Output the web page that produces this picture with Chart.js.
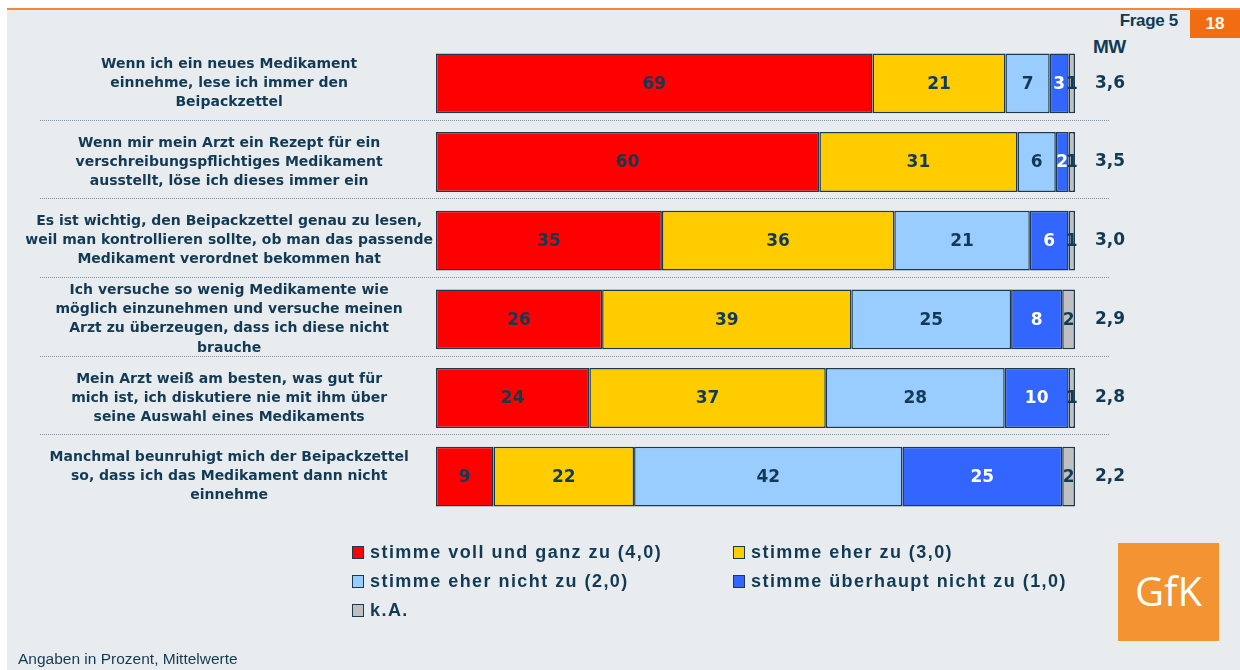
<!DOCTYPE html>
<html>
<head>
<meta charset="utf-8">
<script src="https://cdn.jsdelivr.net/npm/chart.js@4.4.0/dist/chart.umd.min.js"></script>
<style>
  body { margin:0; width:1240px; height:670px; overflow:hidden; background:#fff; position:relative; color:#123a55; }
  #panel { position:absolute; left:7px; top:8px; right:0; bottom:0; background:#e8ecee; border-top:2px solid #f7873a; }
  #chartBox { position:absolute; left:0; top:0; width:1240px; height:670px; }
  .hdr { position:absolute; font-family:"Liberation Sans"; font-weight:bold; color:#123a55; transform-origin:right top; }
  #frage { right:62px; top:11px; font-size:17px; letter-spacing:-0.3px; }
  #page { position:absolute; left:1190px; top:10px; width:50px; height:28px; background:#f26c12; color:#fff; font-family:"Liberation Sans"; font-weight:bold; font-size:17px; text-align:center; line-height:28px; }
  #mw { left:1093px; top:36px; font-size:19px; letter-spacing:-0.5px; }
  #logo { position:absolute; left:1118px; top:543px; width:101px; height:98px; background:#f39331; color:#fff; font-family:"Open Sans"; font-size:40px; text-align:center; line-height:96px; }
  #foot { position:absolute; left:18px; top:650px; font-family:"Liberation Sans"; font-size:15.5px; color:#123a55; }
  #legend { position:absolute; left:352px; top:538px; display:grid; grid-template-columns:381px auto; grid-auto-rows:29px;
            font-family:"Liberation Sans"; font-weight:bold; font-size:18px; letter-spacing:1.45px; color:#123a55; }
  #legend div { display:flex; align-items:center; }
  #legend span.sw { display:inline-block; width:10px; height:11px; border:1.5px solid #1c3a4f; margin-right:6px; }
</style>
</head>
<body>
<div id="panel"></div>
<div class="hdr" id="frage">Frage 5</div>
<div id="page">18</div>
<div class="hdr" id="mw">MW</div>
<div id="chartBox"><canvas id="chart"></canvas></div>
<div id="legend"></div>
<div id="logo">GfK</div>
<div id="foot">Angaben in Prozent, Mittelwerte</div>
<script>
const statements = [
  ['Wenn ich ein neues Medikament', 'einnehme, lese ich immer den', 'Beipackzettel'],
  ['Wenn mir mein Arzt ein Rezept für ein', 'verschreibungspflichtiges Medikament', 'ausstellt, löse ich dieses immer ein'],
  ['Es ist wichtig, den Beipackzettel genau zu lesen,', 'weil man kontrollieren sollte, ob man das passende', 'Medikament verordnet bekommen hat'],
  ['Ich versuche so wenig Medikamente wie', 'möglich einzunehmen und versuche meinen', 'Arzt zu überzeugen, dass ich diese nicht', 'brauche'],
  ['Mein Arzt weiß am besten, was gut für', 'mich ist, ich diskutiere nie mit ihm über', 'seine Auswahl eines Medikaments'],
  ['Manchmal beunruhigt mich der Beipackzettel', 'so, dass ich das Medikament dann nicht', 'einnehme']
];
const mittelwerte = ['3,6', '3,5', '3,0', '2,9', '2,8', '2,2'];

const vollUndGanz     = [69, 60, 35, 26, 24, 9];
const eherZu          = [21, 31, 36, 39, 37, 22];
const eherNicht       = [7, 6, 21, 25, 28, 42];
const ueberhauptNicht = [3, 2, 6, 8, 10, 25];
const keineAngabe     = [1, 1, 1, 2, 1, 2];

const seriesNames = ['stimme voll und ganz zu (4,0)', 'stimme eher zu (3,0)', 'stimme eher nicht zu (2,0)',
                     'stimme überhaupt nicht zu (1,0)', 'k.A.'];

const ink = '#123a55';
const all = [vollUndGanz, eherZu, eherNicht, ueberhauptNicht, keineAngabe];
// rows are drawn as 100% bars, the printed numbers are rounded
const totals = statements.map((_, i) => all.reduce((s, arr) => s + arr[i], 0));
const colors = ['#ff0000', '#ffcc00', '#99ccff', '#3366ff', '#c0c0c0'];
const labelColors = [ink, ink, ink, '#ffffff', ink];

const datasets = all.map((vals, k) => ({
  label: seriesNames[k],
  raw: vals,
  data: vals.map((v, i) => v / totals[i] * 100),
  backgroundColor: colors[k],
  borderColor: '#1c3a4f',
  borderWidth: 1.5,
  borderSkipped: false,
  labelColor: labelColors[k],
  barPercentage: 0.76,
  categoryPercentage: 1
}));

const barLabels = {
  id: 'barLabels',
  afterDatasetsDraw(chart) {
    const ctx = chart.ctx;
    ctx.save();
    ctx.font = 'bold 17px "DejaVu Sans"';
    ctx.textAlign = 'center';
    ctx.textBaseline = 'middle';
    chart.data.datasets.forEach((ds, di) => {
      chart.getDatasetMeta(di).data.forEach((bar, i) => {
        const c = bar.getCenterPoint();
        ctx.fillStyle = ds.labelColor;
        ctx.fillText(ds.raw[i], c.x, c.y + 1);
      });
    });
    ctx.restore();
  }
};

// dotted lines between the statements
const separators = {
  id: 'separators',
  beforeDatasetsDraw(chart) {
    const y = chart.scales.y, ctx = chart.ctx;
    const x0 = chart.chartArea.left - 396, x1 = chart.chartArea.right + 35;
    ctx.save();
    ctx.strokeStyle = '#7d93a3';
    ctx.lineWidth = 1;
    ctx.setLineDash([1, 1]);
    for (let i = 0; i < statements.length - 1; i++) {
      const yy = Math.round((y.getPixelForValue(i) + y.getPixelForValue(i + 1)) / 2) - 2.5;
      ctx.beginPath();
      ctx.moveTo(x0, yy);
      ctx.lineTo(x1, yy);
      ctx.stroke();
    }
    ctx.restore();
  }
};

const chart = new Chart('chart', {
  type: 'bar',
  data: { labels: statements, datasets: datasets },
  options: {
    indexAxis: 'y',
    responsive: true,
    maintainAspectRatio: false,
    animation: false,
    layout: { padding: { left: 26, right: 85, top: 44, bottom: 154 } },
    scales: {
      x: { stacked: true, min: 0, max: 100, display: false },
      y: {
        stacked: true,
        grid: { display: false, drawTicks: false },
        border: { display: false },
        afterFit(scale) { scale.width = 410; },
        ticks: {
          autoSkip: false,
          crossAlign: 'center',
          padding: 3,
          color: ink,
          font: { family: 'DejaVu Sans', size: 14, weight: 'bold', lineHeight: 1.36 }
        }
      },
      y2: {
        type: 'category',
        labels: mittelwerte,
        position: 'right',
        offset: true,
        grid: { display: false, drawTicks: false },
        border: { display: false },
        afterFit(scale) { scale.width = 80; },
        ticks: {
          autoSkip: false,
          crossAlign: 'center',
          padding: 20,
          color: ink,
          font: { family: 'DejaVu Sans', size: 17, weight: 'bold' }
        }
      }
    },
    plugins: {
      legend: { display: false },
      tooltip: { enabled: false }
    }
  },
  plugins: [separators, barLabels]
});

const legendEl = document.getElementById('legend');
chart.data.datasets.forEach(ds => {
  const item = document.createElement('div');
  item.innerHTML = '<span class="sw" style="background:' + ds.backgroundColor + '"></span>' + ds.label;
  legendEl.appendChild(item);
});
</script>
</body>
</html>
